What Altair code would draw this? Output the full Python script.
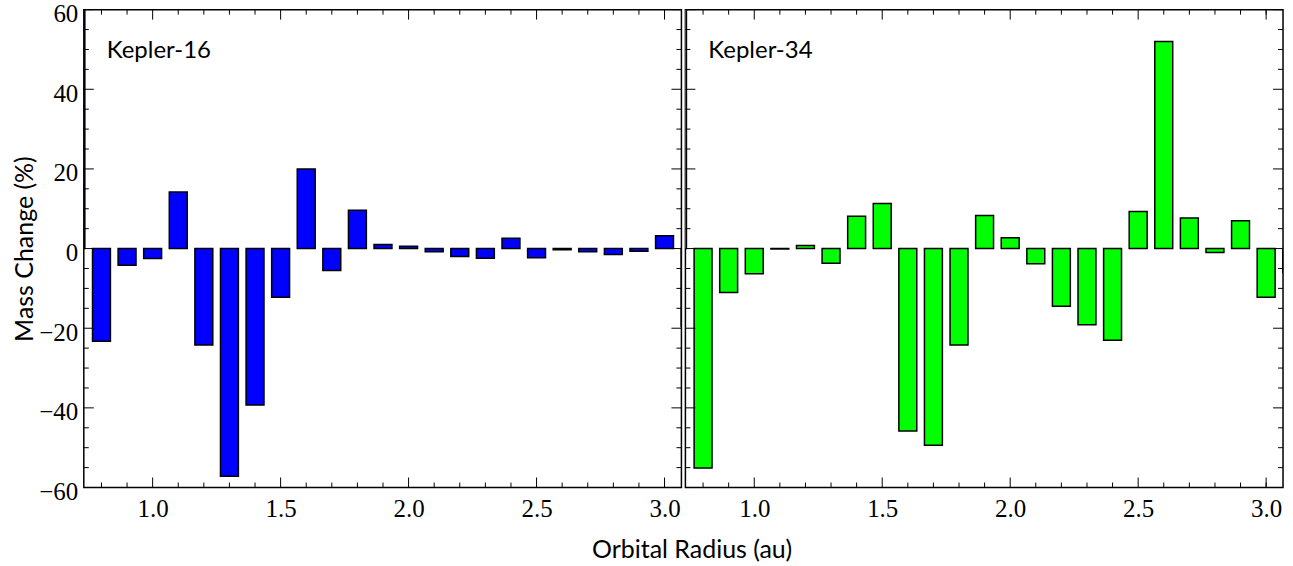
import altair as alt
import pandas as pd

# ---- data ----
# 0.7 and 3.1 au bars sit just outside the plotted range (only their edges show)
radius = [0.7, 0.8, 0.9, 1.0, 1.1, 1.2, 1.3, 1.4, 1.5, 1.6, 1.7, 1.8, 1.9,
          2.0, 2.1, 2.2, 2.3, 2.4, 2.5, 2.6, 2.7, 2.8, 2.9, 3.0, 3.1]
kepler16 = [62.0, -23.3, -4.2, -2.5, 14.2, -24.2, -57.2, -39.3, -12.2, 20.0, -5.5, 9.6, 1.0,
            0.6, -0.8, -2.0, -2.4, 2.6, -2.3, -0.3, -0.8, -1.5, -0.7, 3.2, -19.5]
kepler34 = [62.0, -55.1, -11.0, -6.3, -0.1, 0.8, -3.7, 8.1, 11.3, -45.8, -49.4, -24.2, 8.3,
            2.7, -3.8, -14.5, -19.1, -23.0, 9.3, 52.0, 7.7, -1.0, 7.0, -12.2, -6.0]

x_major = [1.0, 1.5, 2.0, 2.5, 3.0]
x_minor = [0.8, 0.9, 1.1, 1.2, 1.3, 1.4, 1.6, 1.7, 1.8, 1.9, 2.1, 2.2, 2.3, 2.4,
           2.6, 2.7, 2.8, 2.9, 3.0]
y_major = [-60, -40, -20, 0, 20, 40, 60]
y_minor = [-55, -50, -45, -35, -30, -25, -15, -10, -5, 5, 10, 15, 25, 30, 35, 45, 50, 55]

W, H = 599, 479
BAR_HALF = 0.035
MAJ, MIN = 10, 5

xscale = alt.Scale(domain=[0.731, 3.066], nice=False, zero=False)
yscale = alt.Scale(domain=[-60, 60], nice=False, zero=False)

SERIF = "Liberation Serif"
SANS = "Lato"

xaxis = alt.Axis(values=x_major, format=".1f", ticks=False, domain=False,
                 grid=False, labelPadding=9, title=None, labelFlush=False)
yaxis_left = alt.Axis(values=y_major, ticks=False, domain=False, grid=False,
                      labelPadding=6, labelOffset=4, title="Mass Change (%)",
                      titlePadding=1)


def panel(values, color, name, show_y):
    df = pd.DataFrame({"r": radius, "v": values})
    yaxis = yaxis_left if show_y else None
    bars = alt.Chart(df).transform_calculate(
        lo=f"datum.r - {BAR_HALF}", hi=f"datum.r + {BAR_HALF}", z="0"
    ).mark_rect(color=color, stroke="black", strokeWidth=1.5, clip=True).encode(
        x=alt.X("lo:Q", scale=xscale, axis=xaxis),
        x2="hi:Q",
        y=alt.Y("v:Q", scale=yscale, axis=yaxis),
        y2="z:Q",
    )
    xmaj = pd.DataFrame({"t": x_major})
    xmin = pd.DataFrame({"t": x_minor})
    ymaj = pd.DataFrame({"t": y_major})
    ymin = pd.DataFrame({"t": y_minor})
    layers = [bars]
    for d, ln in ((xmaj, MAJ), (xmin, MIN)):
        layers.append(alt.Chart(d).mark_rule(color="black", strokeWidth=1).encode(
            x=alt.X("t:Q", scale=xscale, axis=xaxis), y=alt.value(H), y2=alt.value(H - ln)))
        layers.append(alt.Chart(d).mark_rule(color="black", strokeWidth=1).encode(
            x=alt.X("t:Q", scale=xscale, axis=xaxis), y=alt.value(0), y2=alt.value(ln)))
    for d, ln in ((ymaj, MAJ), (ymin, MIN)):
        layers.append(alt.Chart(d).mark_rule(color="black", strokeWidth=1).encode(
            y=alt.Y("t:Q", scale=yscale, axis=yaxis), x=alt.value(0), x2=alt.value(ln)))
        layers.append(alt.Chart(d).mark_rule(color="black", strokeWidth=1).encode(
            y=alt.Y("t:Q", scale=yscale, axis=yaxis), x=alt.value(W), x2=alt.value(W - ln)))
    label = alt.Chart(pd.DataFrame({"n": [name]})).mark_text(
        font=SANS, fontSize=24, align="left", baseline="alphabetic", color="black"
    ).encode(text="n:N", x=alt.value(23), y=alt.value(48))
    layers.append(label)
    return alt.layer(*layers).properties(width=W, height=H)


left = panel(kepler16, "#0000FF", "Kepler-16", True)
right = panel(kepler34, "#00FF00", "Kepler-34", False)

chart = alt.hconcat(left, right, spacing=0).properties(
    title=alt.TitleParams("Orbital Radius (au)", orient="bottom", anchor="middle",
                          font=SANS, fontSize=25, fontWeight="normal", color="black",
                          offset=16, dx=44)
).configure(
    padding={"left": 12, "top": 0, "right": 8, "bottom": 0},
    view=alt.ViewConfig(stroke="black", strokeWidth=1.5),
    axis=alt.AxisConfig(labelFont=SERIF, labelFontSize=25, labelColor="black",
                        titleFont=SANS, titleFontSize=25, titleFontWeight="normal",
                        titleColor="black"),
)

chart.save("out.html", embed_options={"renderer": "svg", "actions": False})
